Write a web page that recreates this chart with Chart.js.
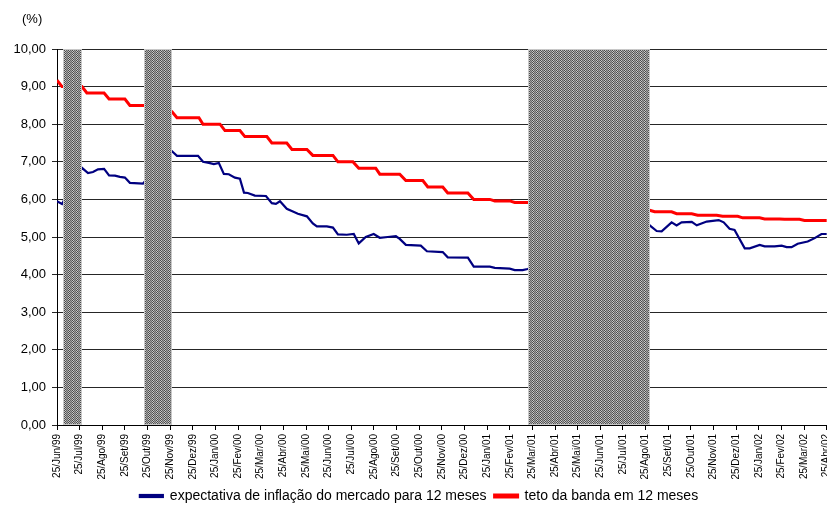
<!DOCTYPE html>
<html>
<head>
<meta charset="utf-8">
<script src="https://cdn.jsdelivr.net/npm/chart.js@4.4.1/dist/chart.umd.min.js"></script>
<style>
  html, body { margin: 0; padding: 0; background: #fff; overflow: hidden; }
  #wrap { width: 845px; height: 506px; position: relative; }
</style>
</head>
<body>
<div id="wrap"><canvas id="c" width="845" height="506"></canvas></div>
<script>
// ---- DATA ----
const monthLabels = ['25/Jun/99','25/Jul/99','25/Ago/99','25/Set/99','25/Out/99','25/Nov/99','25/Dez/99',
  '25/Jan/00','25/Fev/00','25/Mar/00','25/Abr/00','25/Mai/00','25/Jun/00','25/Jul/00','25/Ago/00','25/Set/00',
  '25/Out/00','25/Nov/00','25/Dez/00','25/Jan/01','25/Fev/01','25/Mar/01','25/Abr/01','25/Mai/01','25/Jun/01',
  '25/Jul/01','25/Ago/01','25/Set/01','25/Out/01','25/Nov/01','25/Dez/01','25/Jan/02','25/Fev/02','25/Mar/02','25/Abr/02'];

// x = months elapsed since 25/Jun/99
const expectMonths = [0.00,0.22,1.10,1.37,1.59,1.81,2.08,2.30,2.56,2.78,3.00,3.22,3.80,
  5.08,5.30,6.23,6.45,6.71,6.93,7.15,7.37,7.59,7.86,8.08,8.26,8.43,8.74,9.23,9.49,9.67,9.85,
  10.15,10.42,10.64,11.04,11.30,11.48,11.92,12.19,12.41,12.80,13.11,13.33,13.64,13.99,14.26,
  14.61,14.97,15.14,15.41,16.07,16.34,17.04,17.26,18.15,18.41,19.12,19.34,20.00,20.22,20.57,20.79,
  26.18,26.49,26.71,27.15,27.37,27.59,28.04,28.26,28.70,29.23,29.45,29.71,29.93,30.38,30.60,
  31.04,31.26,31.70,32.01,32.23,32.45,32.72,33.16,33.47,33.77,34.00];
const expectValues = [5.95,5.88,6.84,6.70,6.73,6.80,6.81,6.64,6.63,6.60,6.58,6.44,6.42,
  7.28,7.16,7.16,7.00,6.97,6.94,6.97,6.68,6.67,6.58,6.55,6.18,6.17,6.10,6.09,5.90,5.88,5.95,
  5.75,5.68,5.62,5.55,5.36,5.28,5.28,5.25,5.07,5.06,5.08,4.83,5.00,5.08,4.98,
  5.00,5.02,4.95,4.79,4.77,4.62,4.60,4.46,4.45,4.21,4.21,4.18,4.16,4.12,4.12,4.15,
  5.31,5.16,5.15,5.39,5.31,5.39,5.40,5.31,5.41,5.45,5.39,5.22,5.19,4.70,4.70,
  4.79,4.75,4.75,4.77,4.73,4.73,4.82,4.88,4.97,5.08,5.08];

const tetoMonths = [0.00,0.22,1.10,1.32,2.08,2.30,3.00,3.22,4.02,4.24,5.08,5.30,6.27,6.45,7.20,7.42,
  8.08,8.30,9.27,9.49,10.15,10.38,11.04,11.30,12.19,12.41,13.07,13.33,14.08,14.26,15.14,15.41,
  16.16,16.38,17.04,17.26,18.15,18.41,19.12,19.34,20.00,20.22,20.84,
  26.18,26.40,27.15,27.37,28.04,28.30,29.14,29.40,30.07,30.29,31.04,31.26,31.92,32.14,32.80,33.02,34.00];
const tetoValues = [9.17,9.00,9.00,8.83,8.83,8.67,8.67,8.50,8.50,8.33,8.33,8.17,8.17,8.00,8.00,7.83,
  7.83,7.67,7.67,7.50,7.50,7.33,7.33,7.17,7.17,7.00,7.00,6.83,6.83,6.67,6.67,6.50,
  6.50,6.33,6.33,6.17,6.17,6.00,6.00,5.96,5.96,5.92,5.92,
  5.71,5.67,5.67,5.62,5.62,5.58,5.58,5.55,5.55,5.51,5.51,5.48,5.48,5.47,5.47,5.44,5.44];

// shaded (hatched) periods, in months since 25/Jun/99
const bandStarts = [0.28, 3.85, 20.80];
const bandEnds   = [1.09, 5.09, 26.18];

const yTicks = [0,1,2,3,4,5,6,7,8,9,10];

// ---- CHART ----
const FONT = '"Liberation Sans", Arial, sans-serif';
Chart.defaults.font.family = FONT;
Chart.defaults.color = '#000';

function makePattern(ctx) {
  const p = document.createElement('canvas');
  p.width = 4; p.height = 2;
  const g = p.getContext('2d');
  const rows = [['#4a4a4a','#c8c8c8','#666666','#a0a0a0'],
                ['#c8c8c8','#4a4a4a','#a0a0a0','#666666']];
  for (let r = 0; r < 2; r++) for (let c = 0; c < 4; c++) { g.fillStyle = rows[r][c]; g.fillRect(c, r, 1, 1); }
  return ctx.createPattern(p, 'repeat');
}

const bandsPlugin = {
  id: 'bands',
  afterDatasetsDraw(chart) {
    const {ctx, chartArea, scales: {x, y}} = chart;
    const pat = makePattern(ctx);
    ctx.save();
    ctx.beginPath();
    ctx.rect(chartArea.left, chartArea.top - 1, chartArea.right - chartArea.left, chartArea.bottom - chartArea.top + 1);
    ctx.clip();
    const yTop = y.getPixelForValue(10), yBot = y.getPixelForValue(0);
    for (let i = 0; i < bandStarts.length; i++) {
      const x1 = Math.round(x.getPixelForValue(bandStarts[i]));
      const x2 = Math.round(x.getPixelForValue(bandEnds[i]));
      ctx.fillStyle = pat;
      ctx.fillRect(x1, yTop, x2 - x1, yBot - yTop);
      ctx.strokeStyle = '#c8c8c8';
      ctx.lineWidth = 1;
      ctx.strokeRect(x1 + 0.5, yTop + 0.5, x2 - x1 - 1, yBot - yTop - 1);
    }
    ctx.restore();
  },
  afterDraw(chart) {
    const ctx = chart.ctx;
    ctx.save();
    ctx.font = '13px ' + FONT;
    ctx.fillStyle = '#000';
    ctx.textBaseline = 'middle';
    ctx.fillText('(%)', 22, 19);
    ctx.restore();
  }
};

const toPts = (xs, ys) => xs.map((v, i) => ({x: v, y: ys[i]}));

new Chart(document.getElementById('c'), {
  type: 'line',
  data: {
    datasets: [
      {
        label: 'expectativa de inflação do mercado para 12 meses',
        data: toPts(expectMonths, expectValues),
        borderColor: '#000080', backgroundColor: '#000080',
        borderWidth: 2.2, pointRadius: 0, tension: 0
      },
      {
        label: 'teto da banda em 12 meses',
        data: toPts(tetoMonths, tetoValues),
        borderColor: '#ff0000', backgroundColor: '#ff0000',
        borderWidth: 3, pointRadius: 0, tension: 0
      }
    ]
  },
  options: {
    responsive: false,
    animation: false,
    layout: { padding: { left: 0, right: 7, top: 49, bottom: -7 } },
    plugins: {
      legend: {
        position: 'bottom',
        labels: { boxWidth: 23, boxHeight: 2, padding: 8, font: { size: 14 }, color: '#000' }
      },
      tooltip: { enabled: false }
    },
    scales: {
      x: {
        type: 'linear', min: 0, max: 34.5,
        afterBuildTicks(scale) { scale.ticks = monthLabels.map((_, i) => ({ value: i })); },
        afterFit(scale) { scale.height = 56; },
        grid: { drawOnChartArea: false, drawTicks: true, tickLength: 5, color: '#000' },
        border: { color: '#000', width: 1 },
        ticks: {
          autoSkip: false, maxRotation: 90, minRotation: 90, padding: 4,
          font: { size: 10 },
          callback(v) { return monthLabels[v] !== undefined ? monthLabels[v] : ''; }
        }
      },
      y: {
        min: 0, max: 10,
        afterBuildTicks(scale) { scale.ticks = yTicks.map(v => ({ value: v })); },
        afterFit(scale) { scale.width = 57; },
        grid: { drawOnChartArea: true, drawTicks: true, tickLength: 5, color: '#262626', lineWidth: 1 },
        border: { color: '#000', width: 1 },
        ticks: {
          padding: 6, font: { size: 13 },
          callback(v) { return Number(v).toFixed(2).replace('.', ','); }
        }
      }
    }
  },
  plugins: [bandsPlugin]
});
</script>
</body>
</html>
